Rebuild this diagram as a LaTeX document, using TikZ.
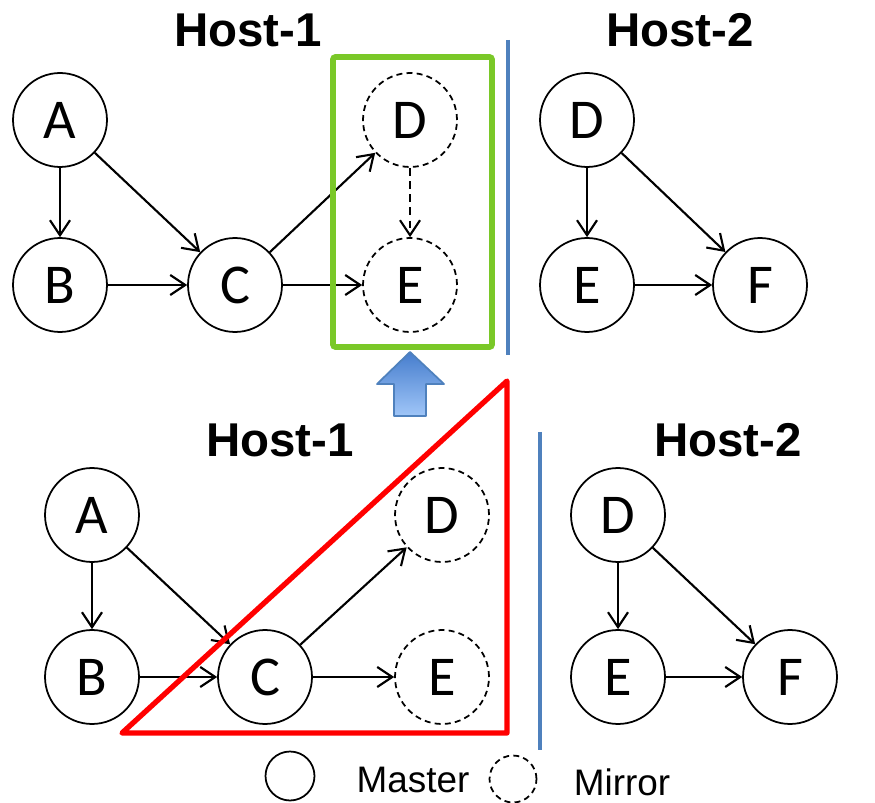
\documentclass[tikz,border=0pt]{standalone}
\usepackage{fontspec}
\setmainfont{Carlito}
\newfontfamily\arialfont{Liberation Sans}
\usepackage{xcolor}
\usetikzlibrary{arrows.meta, positioning}
\definecolor{boxgreen}{RGB}{122,200,40}
\definecolor{cutblue}{RGB}{79,129,189}
\definecolor{arrowtop}{RGB}{70,125,205}
\definecolor{arrowbot}{RGB}{160,198,248}

\begin{document}
\begin{tikzpicture}[x=0.02cm, y=-0.02cm,
    master/.style={circle, draw, minimum size=1.88cm, inner sep=0pt, line width=1pt,
        font=\fontsize{32}{36}\selectfont},
    mirror/.style={master, dash pattern=on 3.4pt off 2.4pt},
    link/.style={-{Straight Barb[length=3mm, width=4mm]}, line width=1.2pt},
    host/.style={font=\arialfont\bfseries\fontsize{27}{30}\selectfont},
    legend/.style={font=\arialfont\fontsize{21}{24}\selectfont}]
\useasboundingbox (0,0) rectangle (875,803);

% upper half: after mirroring D and E
\node[host] (hosta) at (248,30) {Host-1};
\node[host] (hostb) at (680,30) {Host-2};
\node[master] (A) at (60,120) {A};
\node[master] (B) at (60,285) {B};
\node[master] (C) at (235,285) {C};
\node[mirror] (D) at (410,120) {D};
\node[mirror] (E) at (410,285) {E};
\node[master] (D2) at (587,120) {D};
\node[master] (E2) at (587,285) {E};
\node[master] (F2) at (760,285) {F};
\foreach \u/\v in {A/B, A/C, B/C, C/D, C/E, D2/E2, D2/F2, E2/F2}
    \draw[link] (\u) -- (\v);
\draw[link, dash pattern=on 4.5pt off 3pt] (D) -- (E);
\draw[boxgreen, line width=3.3pt, rounded corners=1.5pt] (333,57) rectangle (492,347);
\draw[cutblue, line width=2.3pt] (508,40) -- (508,355);

% arrow between the two halves
\shade[top color=arrowtop, bottom color=arrowbot, draw=cutblue, line width=1pt, line join=round]
    (410,352) -- (377,384) -- (394,384) -- (394,416) -- (426,416) -- (426,384) -- (444,384) -- cycle;

% lower half: before mirroring
\node[host] (loHosta) at (280,440) {Host-1};
\node[host] (loHostb) at (728,440) {Host-2};
\node[master] (loA) at (92,515) {A};
\node[master] (loB) at (92,677) {B};
\node[master] (loC) at (265,677) {C};
\node[mirror] (loD) at (442,515) {D};
\node[mirror] (loE) at (442,677) {E};
\node[master] (loD2) at (618,515) {D};
\node[master] (loE2) at (618,677) {E};
\node[master] (loF2) at (790,677) {F};
\foreach \u/\v in {A/B, A/C, B/C, C/D, C/E, D2/E2, D2/F2, E2/F2}
    \draw[link] (lo\u) -- (lo\v);
\draw[red, line width=3pt, line join=round] (122,733) -- (507,381) -- (507,733) -- cycle;
\draw[cutblue, line width=2.3pt] (540,432) -- (540,750);

% legend
\node[master, minimum size=0.98cm] (keyMaster) at (290,776) {};
\node[legend] (keyMasterText) at (413,780) {Master};
\node[mirror, minimum size=0.94cm] (keyMirror) at (513,779) {};
\node[legend] (keyMirrorText) at (622,782) {Mirror};
\end{tikzpicture}
\end{document}
